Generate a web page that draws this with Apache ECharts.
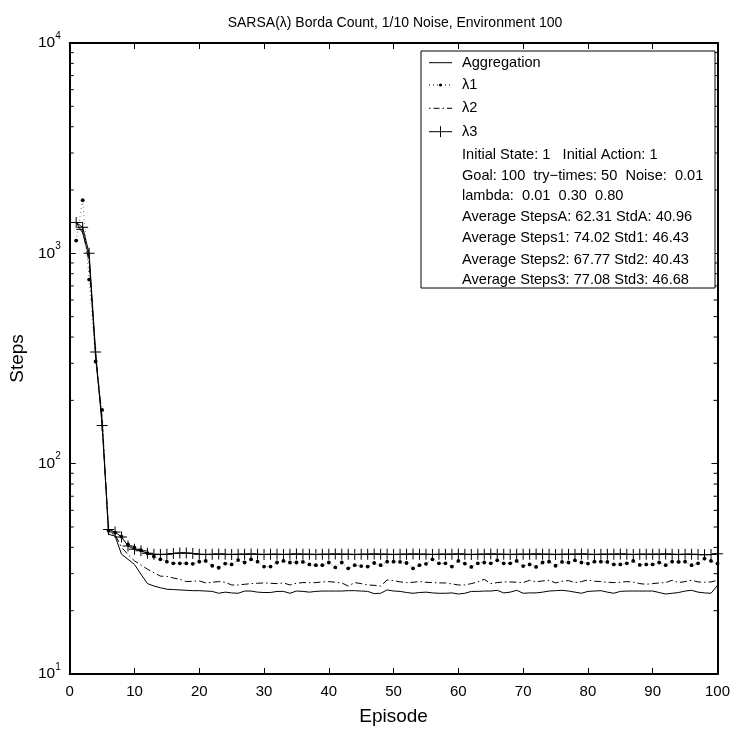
<!DOCTYPE html>
<html>
<head>
<meta charset="utf-8">
<script src="https://cdn.jsdelivr.net/npm/echarts@6/dist/echarts.min.js"></script>
<style>html,body{margin:0;padding:0;background:#fff}#c{width:733px;height:731px}</style>
</head>
<body>
<div id="c"></div>
<script>
const episodes = Array.from({length: 100}, (_, i) => i + 1);

const aggregation = [1400,1250,960,320,160,46.1,45.3,37.1,35.1,33.2,
29.8,26.9,26.2,25.7,25.3,25.2,25.1,25.0,24.9,24.9,
24.8,24.7,24.2,24.5,24.3,24.2,24.8,24.8,24.5,24.4,
24.4,24.7,24.7,24.2,24.8,24.7,24.5,24.7,24.8,24.8,
24.8,24.8,24.9,24.9,24.8,24.7,24.1,24.2,25.1,24.8,
24.7,24.4,24.2,24.4,24.5,24.3,24.2,24.2,24.3,24.0,
24.2,24.7,24.7,24.8,24.8,25.0,24.3,24.5,25.0,24.2,
24.3,24.3,24.5,24.8,24.9,25.0,24.8,24.5,24.2,24.7,
24.8,24.9,24.5,24.2,24.7,24.8,24.8,24.8,24.8,24.8,
24.4,24.0,24.2,24.4,24.8,25.0,24.5,24.3,24.2,26.4];

const lambda1 = [1150,1790,750,306,180,48,47,45,41.3,39.9,
38.8,37.5,36.2,35.1,34.2,33.6,33.6,33.6,33.4,34.2,
34.5,32.7,32.0,33.5,33.2,34.8,33.9,35.1,34.2,32.4,
32.4,33.9,34.5,33.9,33.9,34.1,33.2,32.9,32.9,33.9,
32.1,33.9,31.8,32.9,32.6,32.4,33.7,32.9,34.2,34.2,
34.1,33.7,31.8,32.9,33.4,35.1,33.6,33.6,32.4,34.5,
33.5,32.3,33.6,33.9,33.6,34.7,33.6,33.6,34.5,32.6,
33.2,32.3,33.9,34.2,32.7,34.1,33.9,34.7,33.9,33.5,
34.2,34.2,34.1,33.2,33.2,33.6,34.5,33.0,33.2,33.2,
33.9,32.9,34.2,34.1,34.2,32.9,33.6,35.4,34.5,33.5];

const lambda2 = [1300,1300,900,330,165,47,46,40,37,34.5,
33,31.5,30.3,29.2,29.1,28.6,28.2,27.5,27.6,27.7,
27.1,27.3,27.5,27.3,26.5,26.5,26.7,26.9,27.0,27.1,
27.0,26.9,27.1,26.5,27.0,27.2,27.2,27.2,27.4,27.5,
27.3,27.1,26.2,27.2,26.9,26.5,26.4,26.2,28.0,27.8,
27.4,27.2,27.3,27.5,27.3,27.2,27.1,27.1,26.8,26.5,
26.5,26.9,27.4,28.2,26.9,27.2,27.4,27.4,27.3,27.2,
27.9,27.4,27.7,27.9,27.1,27.6,27.8,27.2,27.5,28.0,
27.6,27.5,27.3,27.2,27.3,27.5,27.3,26.9,26.7,26.9,
27.1,27.2,27.9,27.2,27.5,27.9,27.4,27.3,27.4,27.9];

const lambda3 = [1400,1330,1000,340,152,48.7,47.3,44.8,40.6,39.2,
38.5,37.5,37.1,37.0,37.1,37.4,37.6,37.6,37.4,37.1,
37.0,37.1,37.2,37.1,37.0,37.1,37.1,37.2,37.1,37.0,
37.1,37.1,37.0,37.1,37.2,37.1,37.1,37.0,37.1,37.1,
37.2,37.1,37.1,37.0,37.1,37.1,37.2,37.1,37.1,37.0,
37.1,37.1,37.2,37.1,37.1,37.0,37.1,37.1,37.1,37.2,
37.1,37.0,37.1,37.1,37.2,37.1,37.1,37.0,37.1,37.1,
37.1,37.2,37.1,37.1,37.0,37.1,37.1,37.1,37.2,37.1,
37.0,37.1,37.1,37.1,37.2,37.1,37.0,37.1,37.1,37.1,
37.1,37.2,37.1,37.0,37.1,37.1,37.0,36.9,37.0,37.3];

const seriesNames = ['Aggregation', 'λ1', 'λ2', 'λ3'];
const infoLines = [
  'Initial State: 1   Initial Action: 1',
  'Goal: 100  try\u2212times: 50  Noise:  0.01',
  'lambda:  0.01  0.30  0.80',
  'Average StepsA: 62.31 StdA: 40.96',
  'Average Steps1: 74.02 Std1: 46.43',
  'Average Steps2: 67.77 Std2: 40.43',
  'Average Steps3: 77.08 Std3: 46.68'
];
const xTicks = [0, 100, 10];          // min, max, interval
const yRange = [10, 10000];
const minorTickValues = [20,30,40,50,60,70,80,90,200,300,400,500,600,700,800,900,2000,3000,4000,5000,6000,7000,8000,9000];
const titleText = 'SARSA(λ) Borda Count, 1/10 Noise, Environment 100';

const FONT = '"Liberation Sans", Arial, Helvetica, sans-serif';
const pair = arr => episodes.map((e, i) => [e, arr[i]]);
const plusPath = 'path://M5,0h1v5h5v1h-5v5h-1v-5h-5v-1h5z';

const chart = echarts.init(document.getElementById('c'), null, {renderer: 'canvas'});

const axisCommon = {
  axisLine: {show: true, onZero: false, lineStyle: {color: '#000', width: 2}},
  axisTick: {show: true, inside: true, length: 6, lineStyle: {color: '#000', width: 1}},
  splitLine: {show: false}
};

// legend drawn as graphic
const LX = 421, LY = 51, LW = 294, LH = 237;
const rowY = [62.7, 85, 108.3, 131.7, 155, 175.5, 196, 217, 238.3, 259.5, 280];
const iconX1 = 429, iconX2 = 452, textX = 462;
const legendEls = [];
legendEls.push({type: 'rect', shape: {x: LX, y: LY, width: LW, height: LH},
  style: {fill: '#fff', stroke: '#000', lineWidth: 1}, z: 100});
const lineIcon = (y, dash) => ({type: 'line', shape: {x1: iconX1, y1: y, x2: iconX2, y2: y},
  style: {stroke: '#000', lineWidth: 1, lineDash: dash || null}, z: 101});
legendEls.push(lineIcon(rowY[0]));
legendEls.push(lineIcon(rowY[1], [1, 3]));
legendEls.push({type: 'circle', shape: {cx: (iconX1 + iconX2) / 2, cy: rowY[1], r: 1.6}, style: {fill: '#000'}, z: 101});
legendEls.push(lineIcon(rowY[2], [1.5, 3, 6, 3]));
legendEls.push(lineIcon(rowY[3]));
legendEls.push({type: 'line', shape: {x1: (iconX1 + iconX2) / 2, y1: rowY[3] - 5.5, x2: (iconX1 + iconX2) / 2, y2: rowY[3] + 5.5},
  style: {stroke: '#000', lineWidth: 1}, z: 101});
const allLabels = seriesNames.concat(infoLines);
allLabels.forEach((t, i) => {
  legendEls.push({type: 'text', x: textX, y: rowY[i], z: 101,
    style: {text: t, fill: '#000', font: '14.6px ' + FONT, verticalAlign: 'middle', align: 'left'}});
});

const option = {
  animation: false,
  backgroundColor: '#fff',
  textStyle: {fontFamily: FONT},
  title: {
    text: titleText, left: 390, top: 11, textAlign: 'center',
    textStyle: {fontSize: 14, fontWeight: 'normal', color: '#000', fontFamily: FONT}
  },
  grid: {left: 60, right: 13, top: 43, bottom: 54, containLabel: false},
  xAxis: [
    Object.assign({}, axisCommon, {
      type: 'value', min: xTicks[0], max: xTicks[1], interval: xTicks[2], position: 'bottom',
      axisLabel: {show: true, color: '#000', fontSize: 15, margin: 10, fontFamily: FONT},
      name: 'Episode', nameLocation: 'middle', nameGap: 33,
      nameTextStyle: {fontSize: 19, color: '#000', fontFamily: FONT}
    }),
    Object.assign({}, axisCommon, {
      type: 'value', min: xTicks[0], max: xTicks[1], interval: xTicks[2], position: 'top',
      axisLabel: {show: false}
    })
  ],
  yAxis: [
    Object.assign({}, axisCommon, {
      type: 'log', logBase: 10, min: yRange[0], max: yRange[1], position: 'left',
      axisLabel: {
        show: true, margin: 9, color: '#000', fontFamily: FONT,
        formatter: v => '{b|10}{s|' + Math.round(Math.log10(v)) + '}',
        rich: {
          b: {fontSize: 15.5, color: '#000', fontFamily: FONT, verticalAlign: 'middle'},
          s: {fontSize: 10, color: '#000', fontFamily: FONT, padding: [0, 0, 14, 0], verticalAlign: 'middle'}
        }
      },
      name: 'Steps', nameLocation: 'middle', nameGap: 29,
      nameTextStyle: {fontSize: 19, color: '#000', fontFamily: FONT}
    }),
    Object.assign({}, axisCommon, {
      type: 'log', logBase: 10, min: yRange[0], max: yRange[1], position: 'right',
      axisLabel: {show: false}
    })
  ],
  series: [
    {
      name: seriesNames[0], type: 'line', data: pair(aggregation), symbol: 'none',
      lineStyle: {color: '#000', width: 1}, itemStyle: {color: '#000'}, z: 3
    },
    {
      name: seriesNames[1], type: 'line', data: pair(lambda1), symbol: 'circle', symbolSize: 3.8,
      showAllSymbol: true,
      lineStyle: {color: '#555', width: 0.8, type: [1, 3]}, itemStyle: {color: '#000'}, z: 4
    },
    {
      name: seriesNames[2], type: 'line', data: pair(lambda2), symbol: 'none',
      lineStyle: {color: '#000', width: 1, type: [7, 3, 1.5, 3]}, itemStyle: {color: '#000'}, z: 3
    },
    {
      name: seriesNames[3], type: 'line', data: pair(lambda3), symbol: plusPath, symbolSize: 11,
      showAllSymbol: true,
      lineStyle: {color: '#000', width: 1}, itemStyle: {color: '#000'}, z: 5
    },
    {
      name: 'minorTicks', type: 'custom', silent: true, clip: false,
      data: minorTickValues.map(v => [xTicks[0], v]),
      encode: {x: 0, y: 1},
      renderItem: (params, api) => {
        const v = api.value(1);
        const l = api.coord([xTicks[0], v]);
        const r = api.coord([xTicks[1], v]);
        return {type: 'group', children: [
          {type: 'line', shape: {x1: l[0], y1: l[1], x2: l[0] + 4, y2: l[1]}, style: {stroke: '#000', lineWidth: 1}},
          {type: 'line', shape: {x1: r[0] - 4, y1: r[1], x2: r[0], y2: r[1]}, style: {stroke: '#000', lineWidth: 1}}
        ]};
      },
      z: 2
    }
  ],
  graphic: legendEls
};
chart.setOption(option);
</script>
</body>
</html>
